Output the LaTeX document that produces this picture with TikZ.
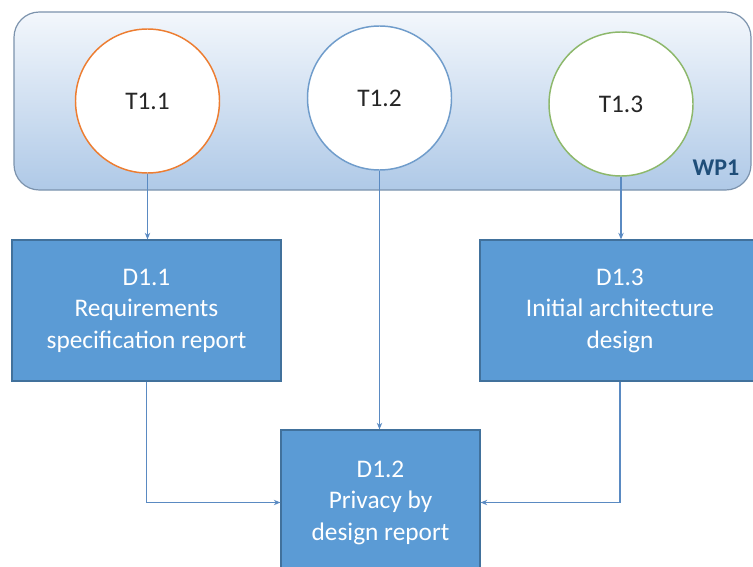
\documentclass[tikz,border=0pt]{standalone}
\usepackage{fontspec}
\setmainfont{Carlito}
\usetikzlibrary{arrows.meta}
\definecolor{wpborder}{HTML}{7C93AD}
\definecolor{wptop}{HTML}{F3F7FC}
\definecolor{wpbot}{HTML}{AFC9E7}
\definecolor{boxfill}{HTML}{5B9BD5}
\definecolor{boxline}{HTML}{41719C}
\definecolor{linkc}{HTML}{5A8AC2}
\definecolor{orangec}{HTML}{ED7D31}
\definecolor{bluec}{HTML}{6F9CCB}
\definecolor{greenc}{HTML}{8DB86B}
\definecolor{wptext}{HTML}{1F4E79}
\definecolor{ttext}{HTML}{262626}
\tikzset{
  task/.style={circle, draw, line width=1.1pt, fill=white, minimum size=108pt, inner sep=0pt,
    font=\fontsize{19}{23}\selectfont, text=ttext},
  deliv/.style={rectangle, draw=boxline, line width=0.8pt, fill=boxfill, text=white,
    align=center, inner sep=2pt, font=\fontsize{19}{23.6}\selectfont},
  link/.style={draw=linkc, line width=0.9pt, -{Stealth[length=5pt,width=4pt]}}
}
\begin{document}
\begin{tikzpicture}[x=0.75pt,y=-0.75pt]
\useasboundingbox (0,0) rectangle (753,567);
\clip (0,0) rectangle (753,567);
\fill[white] (0,0) rectangle (753,567);
% work package
\node[rectangle, rounded corners=19pt, draw=wpborder, line width=0.9pt,
  top color=wptop, bottom color=wpbot, minimum width=552.75pt, minimum height=133.5pt,
  inner sep=0pt] (wp) at (382.5,101) {};
\node[font=\fontsize{18}{20}\selectfont\bfseries, text=wptext] (wpl) at (716,168) {WP1};
% tasks
\node[task, draw=orangec] (t11) at (147.5,101) {T1.1};
\node[task, draw=bluec] (t12) at (379.5,98) {T1.2};
\node[task, draw=greenc] (t13) at (621,104) {T1.3};
% deliverables
\node[deliv, minimum width=201.75pt, minimum height=105.75pt] (d11) at (146.5,310.5)
  {D1.1\\Requirements\\specification report};
\node[deliv, minimum width=210pt, minimum height=105.75pt] (d13) at (620,310.5)
  {D1.3\\Initial architecture\\design};
\node[deliv, minimum width=149.25pt, minimum height=108.75pt] (d12) at (380.5,502.5)
  {D1.2\\Privacy by\\design report};
% connectors
\draw[link] (t11.south) -- (t11.south |- d11.north);
\draw[link] (t12.south) -- (t12.south |- d12.north);
\draw[link] (t13.south) -- (t13.south |- d13.north);
\draw[link] (d11.south) |- (d12.west);
\draw[link] (d13.south) |- (d12.east);
\end{tikzpicture}
\end{document}
